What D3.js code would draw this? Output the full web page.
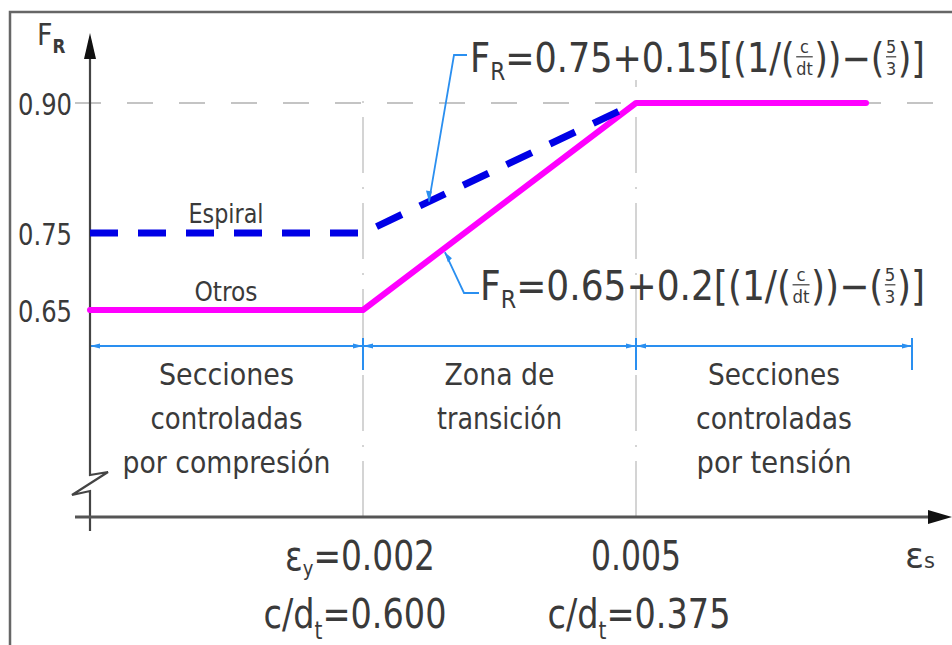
<!DOCTYPE html>
<html>
<head>
<meta charset="utf-8">
<script src="https://cdn.jsdelivr.net/npm/d3@7"></script>
<style>
  html, body { margin: 0; padding: 0; background: #fff; }
  svg text { font-family: "DejaVu Sans Condensed", "DejaVu Sans", "Noto Sans", sans-serif; font-weight: 400; fill: #3a3a3a; }
</style>
</head>
<body>
<svg id="chart" width="952" height="645"></svg>
<script>
// Strength reduction factor F_R versus steel strain ε_s
const otrosStrain   = [0, 0.002, 0.005, 0.0075];
const otrosFR       = [0.65, 0.65, 0.90, 0.90];
const espiralStrain = [0, 0.002, 0.005];
const espiralFR     = [0.75, 0.75, 0.90];

const yTicks      = [0.90, 0.75, 0.65];
const yTickLabels = ["0.90", "0.75", "0.65"];

const strainMarks   = [0.002, 0.005];
const strainLabels  = [["ε", "y", "=0.002"], ["", "", "0.005"]];
const ratioLabels   = ["0.600", "0.375"];

const zoneBounds = [0, 0.002, 0.005, 0.008];
const zoneLabels = [
  ["Secciones", "controladas", "por compresión"],
  ["Zona de", "transición"],
  ["Secciones", "controladas", "por tensión"]
];

// Set widths of the caption lines (lettering is narrow, CAD style)
const zoneLineWidths = [[135, 152, 208], [110, 125], [132, 156, 155]];

const svg = d3.select("#chart");

// Schematic axes: piecewise-linear so each zone gets its own width
const x = d3.scaleLinear().domain([0, 0.002, 0.005, 0.008]).range([90, 363, 636, 912]);
const y = d3.scaleLinear().domain([0.65, 0.75, 0.90]).range([310, 233, 103]);

const axisY = 517, axisTop = 33;
const ink = "#3a3a3a";

// Frame
svg.append("path").attr("d", "M10,645 V12 H952")
  .attr("fill", "none").attr("stroke", "#666").attr("stroke-width", 2.5);

// Inline text runs laid out left to right, then stretched to a given width
function rich(parts, opt) {
  const g = svg.append("g");
  let cx = 0;
  const fs = opt.fs;
  parts.forEach(p => {
    if (p.frac) {
      const s = fs * 0.46;
      const n = g.append("text").attr("y", -fs * 0.47).style("font-size", s + "px").attr("text-anchor", "middle").text(p.frac[0]);
      const d = g.append("text").attr("y", fs * 0.08).style("font-size", s + "px").attr("text-anchor", "middle").text(p.frac[1]);
      const w = Math.max(n.node().getComputedTextLength(), d.node().getComputedTextLength()) + 3;
      n.attr("x", cx + w / 2); d.attr("x", cx + w / 2);
      g.append("line").attr("x1", cx + 1.5).attr("x2", cx + w - 1.5)
        .attr("y1", -fs * 0.38).attr("y2", -fs * 0.38)
        .attr("stroke", ink).attr("stroke-width", 1.2);
      cx += w;
    } else if (p.t) {
      const t = g.append("text").attr("x", cx).attr("y", (p.dy || 0) * fs)
        .style("font-size", (p.s || 1) * fs + "px").text(p.t);
      if (p.w) t.style("font-weight", p.w);
      cx += t.node().getComputedTextLength();
    }
  });
  const k = opt.width ? opt.width / cx : 1;
  const w = cx * k;
  const x0 = opt.anchor === "middle" ? opt.x - w / 2 : opt.anchor === "end" ? opt.x - w : opt.x;
  g.attr("transform", `translate(${x0},${opt.y}) scale(${k},1)`);
  return g;
}

// Reference grid: F_R = 0.90 and the two strain limits
svg.append("line")
  .attr("x1", 75).attr("x2", 935).attr("y1", y(0.90)).attr("y2", y(0.90))
  .attr("stroke", "#c4c4c4").attr("stroke-width", 2).attr("stroke-dasharray", "26,26");
svg.selectAll(".vgrid").data(strainMarks).join("line")
  .attr("class", "vgrid")
  .attr("x1", d => x(d)).attr("x2", d => x(d))
  .attr("y1", axisY).attr("y2", (d, i) => i === 0 ? 92 : 80)
  .attr("stroke", "#bdbdbd").attr("stroke-width", 1.3).attr("stroke-dasharray", "56,14,2,14");

// Dimension line across the three zones
const dimY = 346;
const dimColor = "#2a8ff0";
svg.append("line").attr("x1", x(zoneBounds[0])).attr("x2", x(zoneBounds[3]))
  .attr("y1", dimY).attr("y2", dimY).attr("stroke", dimColor).attr("stroke-width", 2);
svg.selectAll(".dimtick").data(zoneBounds).join("line")
  .attr("class", "dimtick")
  .attr("x1", d => x(d)).attr("x2", d => x(d))
  .attr("y1", 338).attr("y2", 370)
  .attr("stroke", dimColor).attr("stroke-width", 2);
// small arrowheads at the ends of each dimension span
const heads = [];
zoneBounds.forEach((b, i) => {
  if (i > 0) heads.push({ x: x(b), dir: 1 });
  if (i < zoneBounds.length - 1) heads.push({ x: x(b), dir: -1 });
});
svg.selectAll(".dimhead").data(heads).join("path")
  .attr("class", "dimhead")
  .attr("d", d => `M${d.x},${dimY} L${d.x - d.dir * 10},${dimY - 2.5} L${d.x - d.dir * 10},${dimY + 2.5} Z`)
  .attr("fill", dimColor);

// Zone captions
zoneLabels.forEach((lines, i) => {
  const cx = (x(zoneBounds[i]) + x(zoneBounds[i + 1])) / 2;
  lines.forEach((txt, j) => {
    svg.append("text").attr("x", cx).attr("y", 385 + j * 44).attr("text-anchor", "middle")
      .style("font-size", "31px")
      .attr("textLength", zoneLineWidths[i][j]).attr("lengthAdjust", "spacingAndGlyphs")
      .text(txt);
  });
});

// Axes
svg.append("line").attr("x1", 90).attr("x2", 90).attr("y1", axisTop + 10).attr("y2", 468)
  .attr("stroke", "#444").attr("stroke-width", 2.2);
svg.append("path").attr("d", "M90,468 L90,475 L108,472 L72,495 L90,491 L90,531")
  .attr("fill", "none").attr("stroke", "#444").attr("stroke-width", 2.2).attr("stroke-linejoin", "miter");
svg.append("path").attr("d", `M90,${axisTop} L84,${axisTop + 26} L96,${axisTop + 26} Z`).attr("fill", "#111");
svg.append("line").attr("x1", 75).attr("x2", 935).attr("y1", axisY).attr("y2", axisY)
  .attr("stroke", "#555").attr("stroke-width", 3);
svg.append("path").attr("d", `M952,${axisY} L928,${axisY - 7} L928,${axisY + 7} Z`).attr("fill", "#111");

// Axis titles
rich([{ t: "F" }, { t: "R", s: 0.62, dy: 0.28, w: 700 }], { x: 37, y: 45, fs: 30 });
rich([{ t: "ε" }, { t: "s", s: 0.6 }], { x: 905, y: 568, fs: 36, width: 30 });

// F_R tick labels
yTicks.forEach((v, i) => {
  svg.append("text").attr("x", 72).attr("y", y(v) + 12).attr("text-anchor", "end")
    .style("font-size", "31px").attr("textLength", 54).attr("lengthAdjust", "spacingAndGlyphs")
    .text(yTickLabels[i]);
});

// Strain labels and neutral-axis depth ratios
strainMarks.forEach((m, i) => {
  const [a, sub, b] = strainLabels[i];
  const parts = [];
  if (a) parts.push({ t: a });
  if (sub) parts.push({ t: sub, s: 0.55, dy: 0.15 });
  parts.push({ t: b });
  rich(parts, { x: x(m) - (i === 0 ? 3 : 0), y: 570, fs: 40, width: i === 0 ? 150 : 90, anchor: "middle" });
  rich([{ t: "c/d" }, { t: "t", s: 0.6, dy: 0.28 }, { t: "=" + ratioLabels[i] }],
    { x: x(m) + (i === 0 ? -8 : 3), y: 628, fs: 40, width: 183, anchor: "middle" });
});

// Curves
const line = d3.line().x(d => x(d[0])).y(d => y(d[1]));
svg.append("path")
  .attr("d", line(d3.zip(otrosStrain, otrosFR)))
  .attr("fill", "none").attr("stroke", "#ff00ff").attr("stroke-width", 6)
  .attr("stroke-linejoin", "round").attr("stroke-linecap", "round");
svg.append("path")
  .attr("d", line(d3.zip(espiralStrain, espiralFR)))
  .attr("fill", "none").attr("stroke", "#0000e6").attr("stroke-width", 7)
  .attr("stroke-dasharray", "28,20").attr("stroke-linecap", "butt");

// Curve names
svg.append("text").attr("x", 226).attr("y", y(0.75) - 10).attr("text-anchor", "middle")
  .style("font-size", "27px").attr("textLength", 75).attr("lengthAdjust", "spacingAndGlyphs").text("Espiral");
svg.append("text").attr("x", 226).attr("y", y(0.65) - 9).attr("text-anchor", "middle")
  .style("font-size", "27px").attr("textLength", 63).attr("lengthAdjust", "spacingAndGlyphs").text("Otros");

// Formula leaders
function leader(pts, color) {
  svg.append("path").attr("d", d3.line()(pts)).attr("fill", "none")
    .attr("stroke", color).attr("stroke-width", 1.8);
}
const topAt = [x(0.002725), y(0.75 + (0.002725 - 0.002) / 0.003 * 0.15)];
leader([[467, 55], [454, 55], topAt], dimColor);
svg.append("path").attr("d", `M${topAt[0]},${topAt[1]} l-3,-11 l6,1 Z`).attr("fill", dimColor);
const botAt = [x(0.0029), y(0.65 + (0.0029 - 0.002) / 0.003 * 0.25)];
leader([botAt, [464, 293], [479, 293]], dimColor);
svg.append("path").attr("d", `M${botAt[0]},${botAt[1]} l3,10 l4,-4 Z`).attr("fill", dimColor);

// Formulas
rich([{ t: "F" }, { t: "R", s: 0.62, dy: 0.2 }, { t: "=0.75+0.15[(1/(" }, { frac: ["c", "dt"] },
      { t: "))−(" }, { frac: ["5", "3"] }, { t: ")]" }],
  { x: 470, y: 72, fs: 40, width: 455 });
rich([{ t: "F" }, { t: "R", s: 0.62, dy: 0.2 }, { t: "=0.65+0.2[(1/(" }, { frac: ["c", "dt"] },
      { t: "))−(" }, { frac: ["5", "3"] }, { t: ")]" }],
  { x: 480, y: 300, fs: 40, width: 445 });
</script>
</body>
</html>
